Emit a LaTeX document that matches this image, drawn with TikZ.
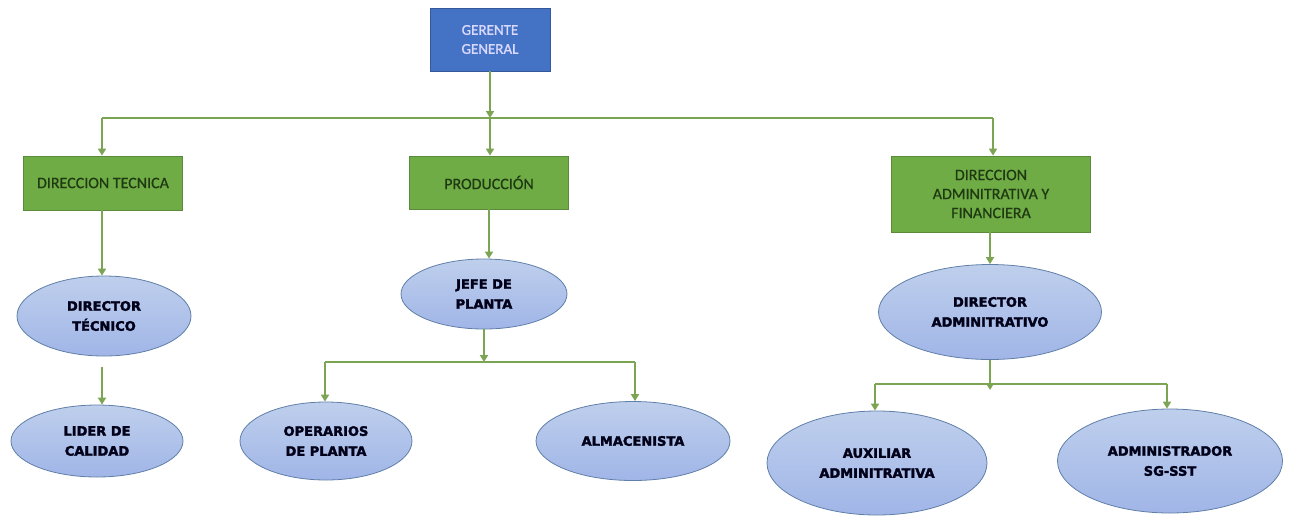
\documentclass[tikz,border=0pt]{standalone}
\usepackage{fontspec}
\setmainfont{Carlito}
\newfontfamily\boxfont[FakeBold=0.6]{Carlito}
\newfontfamily\topfont[FakeBold=1.2]{Carlito}
\newfontfamily\heavyfont[FakeBold=2.2]{DejaVu Sans}
\usetikzlibrary{shapes.geometric,arrows.meta}
\definecolor{lineg}{HTML}{7BA453}
\definecolor{boxg}{HTML}{6FAC46}
\definecolor{boxgb}{HTML}{5A8A3A}
\definecolor{boxtxt}{HTML}{1F3A12}
\definecolor{topb}{HTML}{4472C4}
\definecolor{topbb}{HTML}{34589A}
\definecolor{ellf}{HTML}{A9BFE6}
\definecolor{elld}{HTML}{5F7FA8}
\tikzset{
  conn/.style={draw=lineg, line width=2pt},
  arr/.style={conn, -{Triangle[width=8pt,length=7pt]}},
  topbox/.style={draw=topbb, fill=topb, line width=0.8pt, minimum width=120pt, minimum height=63pt, align=center, text=white!85!blue, font=\topfont\fontsize{15}{19}\selectfont},
  gbox/.style={draw=boxgb, fill=boxg, line width=0.8pt, align=center, text=boxtxt, font=\boxfont\fontsize{16}{19}\selectfont},
  oval/.style={ellipse, draw=elld, line width=0.8pt, inner sep=0pt, top color=ellf!75!white, bottom color=ellf!95!blue, align=center, text=black!90!blue, font=\heavyfont\fontsize{13}{20}\selectfont\bfseries}
}
\begin{document}
\begin{tikzpicture}[x=1pt,y=-1pt]
\useasboundingbox (0,0) rectangle (1289,515);
% top
\node[topbox] (ger) at (490,39.5) {GERENTE\\GENERAL};
% second level
\node[gbox, minimum width=159pt, minimum height=54pt] (dt) at (103,183) {DIRECCION TECNICA};
\node[gbox, minimum width=159pt, minimum height=53pt] (pr) at (489,182.5) {PRODUCCIÓN};
\node[gbox, minimum width=199pt, minimum height=76pt] (da) at (991,194) {DIRECCION\\ADMINITRATIVA Y\\FINANCIERA};
% ellipses
\node[oval, minimum width=174pt, minimum height=80pt] (dtec) at (104,316) {DIRECTOR\\TÉCNICO};
\node[oval, minimum width=172pt, minimum height=72pt] (lid) at (97,441) {LIDER DE\\CALIDAD};
\node[oval, minimum width=166pt, minimum height=70pt] (jefe) at (484,294) {JEFE DE\\PLANTA};
\node[oval, minimum width=172pt, minimum height=78pt] (oper) at (326,441) {OPERARIOS\\DE PLANTA};
\node[oval, minimum width=194pt, minimum height=79pt] (alma) at (633,441) {ALMACENISTA};
\node[oval, minimum width=223pt, minimum height=95pt] (dadm) at (990,312) {DIRECTOR\\ADMINITRATIVO};
\node[oval, minimum width=220pt, minimum height=104pt] (aux) at (877,463) {AUXILIAR\\ADMINITRATIVA};
\node[oval, minimum width=225pt, minimum height=104pt] (adm) at (1170,461) {ADMINISTRADOR\\SG-SST};
% junction coordinates
\coordinate (j1) at (490,118);
\coordinate (j1l) at (102,118);
\coordinate (j1r) at (993,118);
\coordinate (j2) at (484,362);
\coordinate (j2l) at (325,362);
\coordinate (j2r) at (635,362);
\coordinate (j3) at (990,384);
\coordinate (j3l) at (875,384);
\coordinate (j3r) at (1167,384);
% connectors
\draw[arr] (ger.south) -- (j1);
\draw[conn] (j1l) -- (j1r);
\draw[arr] (j1l) -- (j1l |- dt.north);
\draw[arr] (j1) -- (j1 |- pr.north);
\draw[arr] (j1r) -- (j1r |- da.north);
\draw[arr] (dt.south -| j1l) -- (j1l |- dtec.north);
\draw[arr] ([xshift=-2pt,yshift=-11pt]dtec.south) -- ([xshift=5pt]lid.north);
\draw[arr] (pr.south) -- (pr.south |- jefe.north);
\draw[arr] (jefe.south) -- (j2);
\draw[conn] (j2l) -- (j2r);
\draw[arr] (j2l) -- (j2l |- oper.north);
\draw[arr] (j2r) -- (j2r |- alma.north);
\draw[arr] (da.south -| dadm.north) -- (dadm.north);
\draw[arr] (dadm.south) -- ([yshift=-6pt]j3);
\draw[conn] (j3l) -- (j3r);
\draw[arr] (j3l) -- (j3l |- aux.north);
\draw[arr] (j3r) -- (j3r |- adm.north);
\end{tikzpicture}
\end{document}
